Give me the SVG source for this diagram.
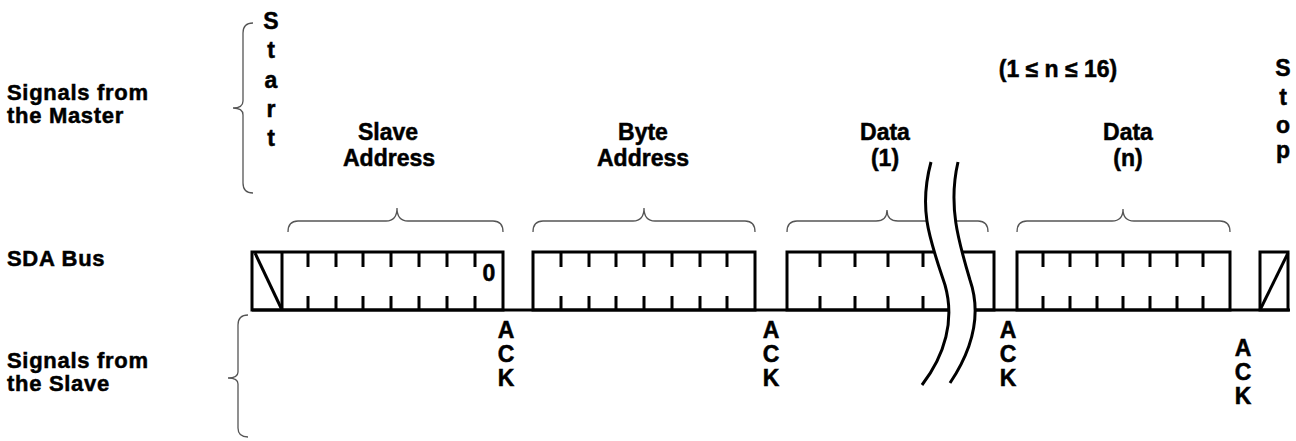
<svg xmlns="http://www.w3.org/2000/svg" width="1296" height="441" viewBox="0 0 1296 441">
  <style>
    text { font-family: "Liberation Sans", Arial, Helvetica, sans-serif; font-weight: bold; fill: #000; stroke: #000; stroke-width: 0.5; }
    .lbl { font-size: 23px; }
    .row { font-size: 22px; letter-spacing: 0.7px; }
    .mid { text-anchor: middle; }
    .brace { fill: none; stroke: #555; stroke-width: 1.3; }
    .bus { fill: none; stroke: #000; stroke-width: 3; stroke-linejoin: miter; }
    .tick { stroke: #000; stroke-width: 3; }
    .brk { fill: none; stroke: #000; stroke-width: 3; }
  </style>
  <rect width="1296" height="441" fill="#fff"/>

  <!-- row labels -->
  <g id="label-master" class="row">
    <text x="7" y="100">Signals from</text>
    <text x="7" y="123">the Master</text>
  </g>
  <g id="label-sda" class="row">
    <text x="7" y="266">SDA Bus</text>
  </g>
  <g id="label-slave" class="row">
    <text x="7" y="368">Signals from</text>
    <text x="7" y="391">the Slave</text>
  </g>

  <!-- row braces -->
  <g id="braces-rows">
    <path class="brace" d="M253,23 Q243,23 243,33 L243,101 Q243,108 233,108 Q243,108 243,115 L243,183 Q243,193 253,193"/>
    <path class="brace" d="M248,315 Q238,315 238,325 L238,372 Q238,378 228,378 Q238,378 238,384 L238,428 Q238,437 248,437"/>
  </g>

  <!-- start / stop conditions -->
  <g id="start" class="lbl mid">
    <text x="271" y="29">S</text>
    <text x="271" y="58">t</text>
    <text x="271" y="88">a</text>
    <text x="271" y="117">r</text>
    <text x="271" y="146">t</text>
  </g>
  <g id="stop" class="lbl mid">
    <text x="1283" y="76">S</text>
    <text x="1283" y="105">t</text>
    <text x="1283" y="133">o</text>
    <text x="1283" y="158">p</text>
  </g>

  <!-- field names -->
  <g id="field-slave-address" class="lbl mid">
    <text x="388" y="140">Slave</text>
    <text x="389" y="166">Address</text>
  </g>
  <g id="field-byte-address" class="lbl mid">
    <text x="643" y="140">Byte</text>
    <text x="643" y="166">Address</text>
  </g>
  <g id="field-data-1" class="lbl mid">
    <text x="885" y="140">Data</text>
    <text x="885" y="166">(1)</text>
  </g>
  <g id="field-data-n" class="lbl mid">
    <text x="1128" y="140">Data</text>
    <text x="1128" y="166">(n)</text>
  </g>
  <g id="range-note" class="lbl mid">
    <text x="1058" y="77">(1 ≤ n ≤ 16)</text>
  </g>

  <!-- field braces -->
  <g id="braces-fields">
    <path class="brace" d="M288,232 Q288,221 298,221 L386,221 Q397,221 397,208 Q397,221 408,221 L493,221 Q503,221 503,232"/>
    <path class="brace" d="M533,232 Q533,221 543,221 L633,221 Q644,221 644,208 Q644,221 655,221 L745,221 Q755,221 755,232"/>
    <path class="brace" d="M787,232 Q787,221 797,221 L876,221 Q887,221 887,210 Q887,221 898,221 L978,221 Q988,221 988,232"/>
    <path class="brace" d="M1017,232 Q1017,221 1027,221 L1112,221 Q1123,221 1123,209 Q1123,221 1134,221 L1220,221 Q1230,221 1230,232"/>
  </g>

  <!-- SDA bus waveform -->
  <g id="connectors">
    <path class="bus" d="M252,310 L1290,310"/>
    <!-- start bit + slave address byte -->
    <rect class="bus" x="252" y="252" width="251" height="58"/>
    <line class="tick" x1="282" y1="252" x2="282" y2="310"/>
    <line class="tick" x1="255" y1="253" x2="282" y2="310"/>
    <!-- byte address -->
    <rect class="bus" x="533" y="252" width="222" height="58"/>
    <!-- data (1) -->
    <rect class="bus" x="787" y="252" width="207" height="58"/>
    <!-- data (n) -->
    <rect class="bus" x="1017" y="252" width="213" height="58"/>
    <!-- stop bit -->
    <rect class="bus" x="1260" y="252" width="28" height="58"/>
    <line class="tick" x1="1260" y1="310" x2="1288" y2="253"/>

    <!-- bit ticks -->
    <g id="ticks">
      <path class="tick" d="
        M308,252 v15 M308,296 v14
        M336,252 v15 M336,296 v14
        M363,252 v15 M363,296 v14
        M391,252 v15 M391,296 v14
        M419,252 v15 M419,296 v14
        M447,252 v15 M447,296 v14
        M475,252 v15 M475,296 v14
        M561,252 v15 M561,296 v14
        M589,252 v15 M589,296 v14
        M616,252 v15 M616,296 v14
        M644,252 v15 M644,296 v14
        M672,252 v15 M672,296 v14
        M700,252 v15 M700,296 v14
        M727,252 v15 M727,296 v14
        M820,252 v15 M820,296 v14
        M855,252 v15 M855,296 v14
        M888,252 v15 M888,296 v14
        M923,252 v15 M923,296 v14
        M1043,252 v15 M1043,296 v14
        M1070,252 v15 M1070,296 v14
        M1097,252 v15 M1097,296 v14
        M1123,252 v15 M1123,296 v14
        M1150,252 v15 M1150,296 v14
        M1177,252 v15 M1177,296 v14
        M1203,252 v15 M1203,296 v14"/>
    </g>

    <!-- break in the sequence -->
    <g id="break">
      <path d="M931,162 C918,210 930,240 945,285 C955,320 945,355 922,385 L954,385 C972,350 982,315 970,280 C958,240 948,205 958,162 Z" fill="#fff" stroke="none"/>
      <path class="brk" d="M931,162 C918,210 930,240 945,285 C955,320 945,355 922,385"/>
      <path class="brk" d="M958,162 C948,205 958,240 970,280 C982,315 972,350 950,383"/>
    </g>
  </g>

  <text id="lsb" x="489" y="281" font-size="23" class="mid">0</text>

  <!-- acknowledge slots -->
  <g id="ack-1" class="lbl mid">
    <text x="506" y="338">A</text>
    <text x="506" y="362">C</text>
    <text x="506" y="386">K</text>
  </g>
  <g id="ack-2" class="lbl mid">
    <text x="771" y="338">A</text>
    <text x="771" y="362">C</text>
    <text x="771" y="386">K</text>
  </g>
  <g id="ack-3" class="lbl mid">
    <text x="1008" y="338">A</text>
    <text x="1008" y="362">C</text>
    <text x="1008" y="386">K</text>
  </g>
  <g id="ack-4" class="lbl mid">
    <text x="1243" y="356">A</text>
    <text x="1243" y="380">C</text>
    <text x="1243" y="404">K</text>
  </g>
</svg>
